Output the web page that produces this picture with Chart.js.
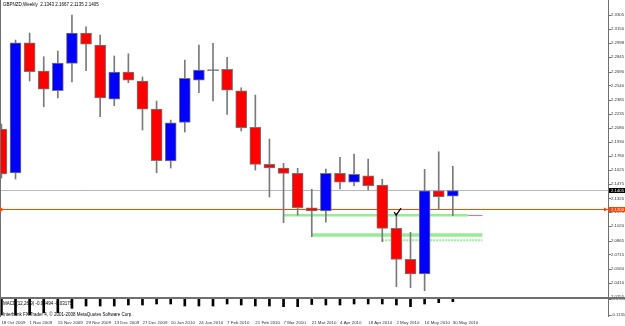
<!DOCTYPE html>
<html><head><meta charset="utf-8">
<script src="https://cdn.jsdelivr.net/npm/chart.js@4.4.1/dist/chart.umd.min.js"></script>
<style>
html,body{margin:0;padding:0;background:#fff;overflow:hidden}
#wrap{position:relative;width:625px;height:326px;background:#fff}
canvas{position:absolute;left:0}
#main{top:0}
#macd{top:298px}
</style></head><body>
<div id="wrap"><canvas id="main" width="625" height="298"></canvas><canvas id="macd" width="625" height="28"></canvas></div>
<script>
const symbolTitle = 'GBPNZD,Weekly';
const weeks = ['18 Oct 2009','25 Oct 2009','1 Nov 2009','8 Nov 2009','15 Nov 2009','22 Nov 2009','29 Nov 2009','6 Dec 2009','13 Dec 2009','20 Dec 2009','27 Dec 2009','3 Jan 2010','10 Jan 2010','17 Jan 2010','24 Jan 2010','31 Jan 2010','7 Feb 2010','14 Feb 2010','21 Feb 2010','28 Feb 2010','7 Mar 2010','14 Mar 2010','21 Mar 2010','28 Mar 2010','4 Apr 2010','11 Apr 2010','18 Apr 2010','25 Apr 2010','2 May 2010','9 May 2010','16 May 2010','23 May 2010','30 May 2010'];
const open  = [2.2069,2.1594,2.3001,2.2696,2.2483,2.2779,2.3106,2.2976,2.2393,2.2685,2.2588,2.2285,2.1724,2.2141,2.2598,2.2703,2.2714,2.2483,2.2088,2.1688,2.1648,2.1591,2.1219,2.1184,2.1591,2.1494,2.1565,2.1464,2.0997,2.0662,2.0503,2.1403,2.1343];
const high  = [2.2123,2.3030,2.3106,2.2850,2.2912,2.3300,2.3174,2.3084,2.2858,2.2882,2.2631,2.2372,2.2166,2.2814,2.2976,2.2995,2.2844,2.2515,2.2436,2.1961,2.1699,2.1645,2.1418,2.1637,2.1764,2.1799,2.1745,2.1526,2.1159,2.0954,2.1634,2.1824,2.1667];
const low   = [2.1540,2.1529,2.2588,2.2310,2.2404,2.2577,2.2699,2.2202,2.2321,2.2569,2.2058,2.1597,2.1648,2.2037,2.2461,2.2372,2.2228,2.2048,2.1626,2.1335,2.1057,2.1140,2.0906,2.1062,2.1421,2.1457,2.1410,2.0852,2.0366,2.0355,2.0323,2.1202,2.1135];
const close = [2.1583,2.3001,2.2688,2.2501,2.2782,2.3106,2.2987,2.2404,2.2685,2.2598,2.2285,2.1727,2.2137,2.2617,2.2706,2.2700,2.2490,2.2083,2.1688,2.1648,2.1591,2.1219,2.1184,2.1591,2.1494,2.1580,2.1457,2.0997,2.0662,2.0503,2.1403,2.1338,2.1405];
const priceTicks = [2.3305,2.3150,2.2998,2.2845,2.2690,2.2540,2.2385,2.2235,2.2080,2.1930,2.1780,2.1625,2.1475,2.1320,2.1170,2.1020,2.0865,2.0715,2.0560,2.0410,2.0255];
const lastPrice = 2.1405;
const alertLevel = 2.1200;
const zoneStart = [20, 22, 27];
const zoneEnd   = [33.1, 34.1, 34.1];
const zoneLevel = [2.1138, 2.0924, 2.0868];
const pinkStart = 32, pinkEnd = 34.1, pinkLevel = 2.1135;
const checkAt = [28.05, 2.1173];
const macdHist = [-0.1152,-0.1152,-0.1152,-0.1041,-0.1041,-0.0829,-0.0718,-0.0718,-0.0718,-0.0669,-0.0669,-0.0621,-0.0621,-0.0718,-0.0718,-0.0718,-0.0621,-0.0669,-0.0718,-0.0718,-0.0751,-0.0751,-0.0645,-0.0669,-0.0669,-0.0621,-0.0621,-0.0621,-0.0669,-0.0751,-0.0621,-0.0558,-0.0510];
const macdTicks = [-0.03948, -0.1131];
const macdTickLabels = ['-0.03948', '-0.1131'];
const macdTitle = 'MACD(12,26,9) -0.04494 -0.03175';
const copyright = 'Interbank FX Trader 4, \u00a9 2001-2008 MetaQuotes Software Corp.';

const FONT = "'Liberation Sans', Arial, sans-serif";
const idx = weeks.map((_, i) => i);
const last = idx.length - 1;
const bodyColors = idx.map(i => Math.abs(close[i] - open[i]) < 0.0005 ? '#666666' : (close[i] >= open[i] ? '#0000ff' : '#ff0000'));

function hline(x0, x1, v, color, width, dash) {
  return { type: 'line', data: [{x: x0, y: v}, {x: x1, y: v}], borderColor: color, borderWidth: width,
           borderDash: dash || [], pointRadius: 0, order: 5, clip: 0 };
}

const mainDecor = {
  id: 'mainDecor',
  afterDraw(chart) {
    const {ctx, chartArea: a, scales: {x, y}} = chart;
    ctx.save();
    ctx.strokeStyle = '#707070'; ctx.lineWidth = 1;
    ctx.beginPath(); ctx.moveTo(a.right + 0.5, 0); ctx.lineTo(a.right + 0.5, chart.height); ctx.stroke();
    ctx.beginPath(); ctx.moveTo(0, a.bottom + 0.5); ctx.lineTo(chart.width, a.bottom + 0.5); ctx.stroke();
    ctx.beginPath(); ctx.moveTo(0.5, 0); ctx.lineTo(0.5, a.bottom); ctx.stroke();
    priceTicks.forEach(v => {
      const py = Math.round(y.getPixelForValue(v)) + 0.5;
      ctx.beginPath(); ctx.moveTo(a.right, py); ctx.lineTo(a.right + 3, py); ctx.stroke();
    });
    const tag = (v, bg, fg) => {
      const py = y.getPixelForValue(v);
      ctx.fillStyle = bg;
      ctx.fillRect(a.right + 1, py - 2.5, chart.width - a.right - 1, 5);
      ctx.fillStyle = fg;
      ctx.font = `4.3px ${FONT}`; ctx.textAlign = 'left'; ctx.textBaseline = 'middle';
      ctx.fillText(v.toFixed(4), a.right + 3, py + 0.3);
    };
    tag(lastPrice, '#000000', '#ffffff');
    tag(alertLevel, '#ff4500', '#ffffff');
    // small alert arrows
    const ay = y.getPixelForValue(alertLevel);
    ctx.fillStyle = '#ff4500';
    ctx.beginPath(); ctx.moveTo(0, ay - 2.5); ctx.lineTo(4, ay); ctx.lineTo(0, ay + 2.5); ctx.closePath(); ctx.fill();
    ctx.beginPath(); ctx.moveTo(a.right - 4, ay - 2); ctx.lineTo(a.right, ay); ctx.lineTo(a.right - 4, ay + 2); ctx.closePath(); ctx.fill();
    // title
    ctx.fillStyle = '#000';
    ctx.font = `4.5px ${FONT}`; ctx.textAlign = 'left'; ctx.textBaseline = 'middle';
    ctx.fillText(`${symbolTitle}  ${open[last].toFixed(4)} ${high[last].toFixed(4)} ${low[last].toFixed(4)} ${close[last].toFixed(4)}`, 3, 5);
    // check mark
    const cx = x.getPixelForValue(checkAt[0]), cy = y.getPixelForValue(checkAt[1]);
    ctx.strokeStyle = '#000'; ctx.lineWidth = 1.3;
    ctx.beginPath(); ctx.moveTo(cx - 3, cy); ctx.lineTo(cx - 1, cy + 3); ctx.lineTo(cx + 4, cy - 4); ctx.stroke();
    ctx.restore();
  }
};

new Chart(document.getElementById('main'), {
  type: 'bar',
  data: { datasets: [
    { type: 'bar', data: idx.map(i => ({x: i, y: [open[i], close[i]]})), backgroundColor: bodyColors,
      borderColor: '#777777', borderWidth: 1, borderSkipped: false, grouped: false,
      barThickness: 11, maxBarThickness: 11, minBarLength: 1, order: 1 },
    { type: 'bar', data: idx.map(i => ({x: i, y: [low[i], high[i]]})), backgroundColor: '#7a7a7a',
      borderWidth: 0, grouped: false, barThickness: 1, maxBarThickness: 1, order: 2 },
    hline(-0.1, 43, lastPrice, '#b8b8cc', 1),
    hline(-0.1, 43, alertLevel, '#ff4500', 1),
    hline(zoneStart[0], zoneEnd[0], zoneLevel[0], '#98ec98', 2.5),
    hline(zoneStart[1], zoneEnd[1], zoneLevel[1], '#98ec98', 3.5),
    hline(zoneStart[2], zoneEnd[2], zoneLevel[2], '#98ec98', 1.8, [2, 1]),
    hline(pinkStart, pinkEnd, pinkLevel, '#ee55ee', 1)
  ]},
  options: {
    responsive: false, animation: false, devicePixelRatio: 1, events: [],
    layout: { padding: { left: 0, right: 0, top: 1, bottom: 1 } },
    plugins: { legend: { display: false }, tooltip: { enabled: false } },
    scales: {
      x: { type: 'linear', min: -0.1, max: 43, offset: false, display: false },
      y: { type: 'linear', position: 'right', min: 2.0255, max: 2.3452,
           grid: { display: false, drawTicks: false }, border: { display: false },
           afterBuildTicks: s => { s.ticks = priceTicks.map(v => ({value: v})); },
           afterFit: s => { s.width = 17; s.paddingTop = 0; s.paddingBottom = 0; },
           ticks: { autoSkip: false, padding: 3, color: '#333', font: { family: FONT, size: 4.3 },
                    callback: v => v.toFixed(4) } }
    }
  },
  plugins: [mainDecor]
});

const macdDecor = {
  id: 'macdDecor',
  afterDraw(chart) {
    const {ctx, chartArea: a, scales: {y}} = chart;
    ctx.save();
    ctx.strokeStyle = '#707070'; ctx.lineWidth = 1;
    ctx.beginPath(); ctx.moveTo(0, 0.5); ctx.lineTo(chart.width, 0.5); ctx.stroke();
    ctx.beginPath(); ctx.moveTo(a.right + 0.5, 0); ctx.lineTo(a.right + 0.5, a.bottom); ctx.stroke();
    ctx.beginPath(); ctx.moveTo(0.5, 0); ctx.lineTo(0.5, a.bottom); ctx.stroke();
    macdTicks.forEach(v => {
      const py = Math.round(y.getPixelForValue(v)) + 0.5;
      ctx.beginPath(); ctx.moveTo(a.right, py); ctx.lineTo(a.right + 3, py); ctx.stroke();
    });
    ctx.fillStyle = '#000';
    ctx.font = `4.5px ${FONT}`; ctx.textAlign = 'left'; ctx.textBaseline = 'middle';
    ctx.fillText(macdTitle, 3, 5.3);
    ctx.fillText(copyright, 3, 16.3);
    ctx.restore();
  }
};

new Chart(document.getElementById('macd'), {
  type: 'bar',
  data: { datasets: [
    { data: idx.map(i => ({x: i, y: macdHist[i]})), backgroundColor: '#000000', borderWidth: 0,
      grouped: false, barThickness: 2, maxBarThickness: 2, clip: 0 }
  ]},
  options: {
    responsive: false, animation: false, devicePixelRatio: 1, events: [],
    layout: { padding: { left: 0, right: 0, top: 1, bottom: 0 } },
    plugins: { legend: { display: false }, tooltip: { enabled: false } },
    scales: {
      x: { type: 'linear', min: -0.1, max: 43, offset: false, position: 'bottom',
           grid: { display: false, drawTicks: false }, border: { display: false },
           afterBuildTicks: s => { s.ticks = idx.filter(i => i % 2 === 0).map(i => ({value: i})); },
           afterFit: s => { s.height = 9; s.paddingLeft = 0; s.paddingRight = 0; },
           ticks: { autoSkip: false, maxRotation: 0, minRotation: 0, align: 'start', padding: 3,
                    color: '#333', font: { family: FONT, size: 4.4 }, callback: v => weeks[v] } },
      y: { type: 'linear', position: 'right', min: -0.1248, max: -0.0380,
           grid: { display: false, drawTicks: false }, border: { display: false },
           afterBuildTicks: s => { s.ticks = macdTicks.map(v => ({value: v})); },
           afterFit: s => { s.width = 17; s.paddingTop = 0; s.paddingBottom = 0; },
           ticks: { autoSkip: false, padding: 3, color: '#333', font: { family: FONT, size: 4.3 },
                    callback: (v, i) => macdTickLabels[i] } }
    }
  },
  plugins: [macdDecor]
});
</script>
</body></html>
